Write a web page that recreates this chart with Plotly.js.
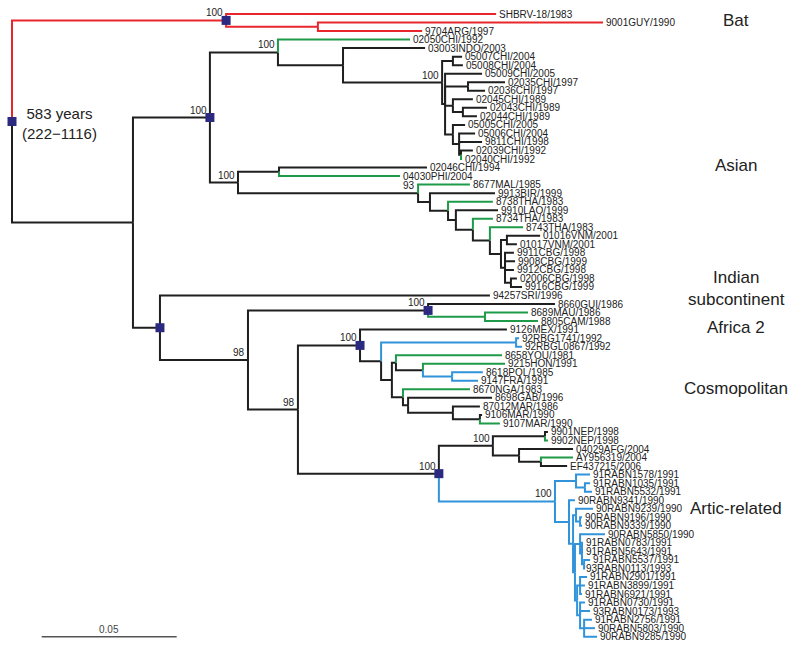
<!DOCTYPE html>
<html><head><meta charset="utf-8">
<script src="https://cdn.plot.ly/plotly-3.0.1.min.js"></script>
<style>html,body{margin:0;padding:0;background:#fff}#chart{width:795px;height:647px}</style>
</head><body><div id="chart"></div>
<script>
// ---- internal nodes (id, parent, depth in substitutions/site, colour key) ----
const internalIds = ['R','Bat','BatSub','In','As','A1','A1b','CHI','C1','C2','C3','C4','C4b','G5','G5b','G5c',
  'A2','A2a','A2b','A3','A4','A5','A6','A7','A8','V','CB','CB2',
  'Ot','O2','Af2','Af2b','O3','Co','Co2','RBG','Co3','Co4','HP','PF','Co5','Co6','MAR','M2',
  'Ar','AE','NEP','AF','AYEF','RA','R1','R1b','R2','R3','R4','R4b','R5','R6','R6b','R6c','R7','R7a','R7b','R7c'];
const internalParents = [null,'R','Bat','R','In','As','A1','A1b','CHI','CHI','C2','C2','C4','C2','G5','G5b',
  'As','A2','A2','A2b','A3','A4','A5','A6','A7','A8','A8','CB',
  'In','Ot','O2','Af2','O2','O3','Co','Co2','Co2','Co3','Co4','HP','Co3','Co5','Co6','MAR',
  'O3','Ar','AE','AE','AF','Ar','RA','R1','RA','R2','R3','R4','R3','R5','R6','R6b','R5','R7','R7','R7b'];
const internalDepths = [0,0.0793,0.1133,0.0448,0.0733,0.0985,0.1226,0.1593,0.1633,0.1604,0.1689,0.1633,0.1670,0.1633,0.1656,0.1663,
  0.0837,0.0989,0.1504,0.1548,0.1615,0.1644,0.1707,0.1770,0.1811,0.1833,0.1826,0.1848,
  0.0548,0.0874,0.1541,0.1752,0.1059,0.1289,0.1367,0.1867,0.1407,0.1422,0.1522,0.1630,0.1448,0.1467,0.1633,0.1733,
  0.1581,0.1781,0.1974,0.1878,0.1959,0.2011,0.2089,0.2122,0.2063,0.2078,0.2089,0.2104,0.2085,0.2104,0.2111,0.2119,0.2093,0.2104,0.2104,0.2119];
const internalColors = ['k','r','r','k','k','k','k','k','k','k','k','k','k','k','k','k',
  'k','k','k','k','k','k','k','k','k','k','k','k',
  'k','k','k','g','k','k','k','b','k','k','k','b','k','k','k','k',
  'k','k','k','k','k','b','b','b','b','b','b','b','b','b','b','b','b','b','b','b'];

// ---- leaves, top to bottom ----
const leafNames = ['SHBRV-18/1983','9001GUY/1990','9704ARG/1997','02050CHI/1992','03003INDO/2003',
  '05007CHI/2004','05008CHI/2004','05009CHI/2005','02035CHI/1997','02036CHI/1997','02045CHI/1989','02043CHI/1989','02044CHI/1989',
  '05005CHI/2005','05006CHI/2004','9811CHI/1998','02039CHI/1992','02040CHI/1992','02046CHI/1994','04030PHI/2004',
  '8677MAL/1985','9913BIR/1999','8738THA/1983','9910LAO/1999','8734THA/1983','8743THA/1983','01016VNM/2001','01017VNM/2001',
  '9911CBG/1998','9908CBG/1999','9912CBG/1998','02006CBG/1998','9916CBG/1999','94257SRI/1996',
  '8660GUI/1986','8689MAU/1986','8805CAM/1988','9126MEX/1991','92RBG1741/1992','92RBGL0867/1992','8658YOU/1981','9215HON/1991',
  '8618POL/1985','9147FRA/1991','8670NGA/1983','8698GAB/1996','87012MAR/1986','9106MAR/1990','9107MAR/1990',
  '9901NEP/1998','9902NEP/1998','04029AFG/2004','AY956319/2004','EF437215/2006',
  '91RABN1578/1991','91RABN1035/1991','91RABN5532/1991','90RABN9341/1990','90RABN9239/1990','90RABN9196/1990','90RABN9339/1990',
  '90RABN5850/1990','91RABN0783/1991','91RABN5643/1991','91RABN5537/1991','93RABN0113/1993','91RABN2901/1991','91RABN3899/1991',
  '91RABN6921/1991','91RABN0730/1991','93RABN0173/1993','91RABN2756/1991','90RABN5803/1990','90RABN9285/1990'];
const leafParents = ['Bat','BatSub','BatSub','A1','A1b',
  'C1','C1','C2','C3','C3','C4','C4b','C4b',
  'G5','G5b','G5b','G5c','G5c','A2a','A2a',
  'A2b','A3','A4','A5','A6','A7','V','V',
  'CB','CB','CB','CB2','CB2','Ot',
  'Af2','Af2b','Af2b','Co','RBG','RBG','Co4','HP',
  'PF','PF','Co5','Co6','MAR','M2','M2',
  'NEP','NEP','AF','AYEF','AYEF',
  'R1','R1b','R1b','R2','R4','R4b','R4b',
  'R6','R6b','R6b','R6c','R6c','R7a','R7a',
  'R7a','R7b','R7b','R7c','R7c','R7c'];
const leafDepths = [0.1793,0.2189,0.1519,0.1474,0.1530,
  0.1667,0.1670,0.1741,0.1826,0.1752,0.1707,0.1759,0.1722,
  0.1678,0.1715,0.1741,0.1707,0.1667,0.1537,0.1437,
  0.1696,0.1789,0.1781,0.1800,0.1781,0.1893,0.1956,0.1870,
  0.1859,0.1863,0.1859,0.1870,0.1889,0.1770,
  0.2011,0.1911,0.1948,0.1833,0.1878,0.1889,0.1815,0.1826,
  0.1744,0.1726,0.1696,0.1778,0.1733,0.1741,0.1807,
  0.1985,0.1985,0.2078,0.2078,0.2056,
  0.2141,0.2141,0.2148,0.2085,0.2152,0.2111,0.2111,
  0.2196,0.2115,0.2115,0.2141,0.2115,0.2130,0.2122,
  0.2111,0.2122,0.2141,0.2148,0.2159,0.2167];
const leafColors = ['r','r','r','g','k',
  'k','k','k','k','k','k','k','k',
  'k','k','k','k','g','k','g',
  'g','k','g','k','g','g','k','k',
  'k','k','k','k','k','k',
  'k','g','g','k','b','b','g','g',
  'b','b','g','k','k','k','g',
  'k','g','k','g','k',
  'b','b','b','b','b','b','b',
  'b','b','b','b','b','b','b',
  'b','b','b','b','b','b'];

// ---- bootstrap support and dated nodes ----
const supportNodes = ['Bat','As','A1','CHI','A2','A2b','Af2','O2','O3','Co','AE','Ar','RA'];
const supportValues = ['100','100','100','100','100','93','100','98','98','100','100','100','100'];
const datedNodes = ['R','Bat','As','Ot','Af2','Co','Ar'];
const cladeNames = ['Bat','Asian','Indian<br>subcontinent','Africa 2','Cosmopolitan','Artic-related'];
const rootAgeText = '583 years<br>(222\u22121116)';
const scaleBarLength = 0.05;

// ---- build tree ----
const node = {};
internalIds.forEach((id,i)=>{ node[id] = {id, parent: internalParents[i], x: internalDepths[i], c: internalColors[i], kids: []}; });
leafNames.forEach((n,i)=>{ node[n] = {id:n, parent: leafParents[i], x: leafDepths[i], c: leafColors[i], kids: [], y: i, leaf: true}; });
Object.values(node).forEach(n=>{ if(n.parent) node[n.parent].kids.push(n); });
function getY(n){ if(n.y !== undefined) return n.y; const ys = n.kids.map(getY); n.y = (Math.min(...ys)+Math.max(...ys))/2; return n.y; }
getY(node.R);

const colorMap = {k:'#1f1f1f', r:'#e8262c', g:'#1e9a48', b:'#3193d9'};
const seg = {k:{x:[],y:[]}, r:{x:[],y:[]}, g:{x:[],y:[]}, b:{x:[],y:[]}};
Object.values(node).forEach(n=>{
  if(!n.parent) return;
  const p = node[n.parent];
  const s = seg[n.c];
  s.x.push(p.x, p.x, n.x, null);
  s.y.push(p.y, n.y, n.y, null);
});

const traces = ['k','r','g','b'].map(c=>({
  type:'scatter', mode:'lines', x: seg[c].x, y: seg[c].y,
  line:{color: colorMap[c], width: 2}, hoverinfo:'skip', connectgaps:false
}));
traces.push({
  type:'scatter', mode:'markers',
  x: datedNodes.map(id=>node[id].x), y: datedNodes.map(id=>node[id].y),
  marker:{symbol:'square', size:9, color:'#2c2a80'}, hoverinfo:'skip'
});

const FONT = 'Liberation Sans, Arial, sans-serif';
const annotations = [];
leafNames.forEach((n,i)=>{
  annotations.push({x: node[n].x, y: i, xref:'x', yref:'y', text: n, showarrow:false,
    xanchor:'left', yanchor:'middle', xshift: 1, font:{family: FONT, size: 10, color:'#222'}});
});
supportNodes.forEach((id,i)=>{
  annotations.push({x: node[id].x, y: node[id].y, xref:'x', yref:'y', text: supportValues[i], showarrow:false,
    xanchor:'right', yanchor:'bottom', xshift: -1, yshift: 0, font:{family: FONT, size: 10, color:'#222'}});
});
const cladeY = [20, 165, 288, 327, 388, 508];
cladeNames.forEach((t,i)=>{
  annotations.push({x: 736/795, y: 1 - cladeY[i]/647, xref:'paper', yref:'paper', text: t, showarrow:false,
    xanchor:'center', yanchor:'middle', font:{family: FONT, size: 17, color:'#222'}});
});
annotations.push({x: 59/795, y: 1 - 124/647, xref:'paper', yref:'paper', text: rootAgeText, showarrow:false,
  xanchor:'center', yanchor:'middle', font:{family: FONT, size: 15, color:'#222'}});

const scaleX0 = 0.011;
annotations.push({x: scaleX0 + scaleBarLength/2, y: 1 - 629/647, xref:'x', yref:'paper', text: String(scaleBarLength), showarrow:false,
  xanchor:'center', yanchor:'middle', font:{family: FONT, size: 10, color:'#444'}});

const layout = {
  width: 795, height: 647, margin:{l:0,r:0,t:0,b:0},
  paper_bgcolor:'#fff', plot_bgcolor:'#fff', showlegend:false,
  xaxis:{range:[-12/2700, 783/2700], visible:false, fixedrange:true},
  yaxis:{range:[633/8.53, -14/8.53], visible:false, fixedrange:true},
  annotations,
  shapes:[{type:'line', xref:'x', yref:'paper', x0: scaleX0, x1: scaleX0 + scaleBarLength,
    y0: 1 - 636.7/647, y1: 1 - 636.7/647, line:{color:'#555', width:1.5}}]
};
Plotly.newPlot('chart', traces, layout, {staticPlot:true, displayModeBar:false});
</script></body></html>
